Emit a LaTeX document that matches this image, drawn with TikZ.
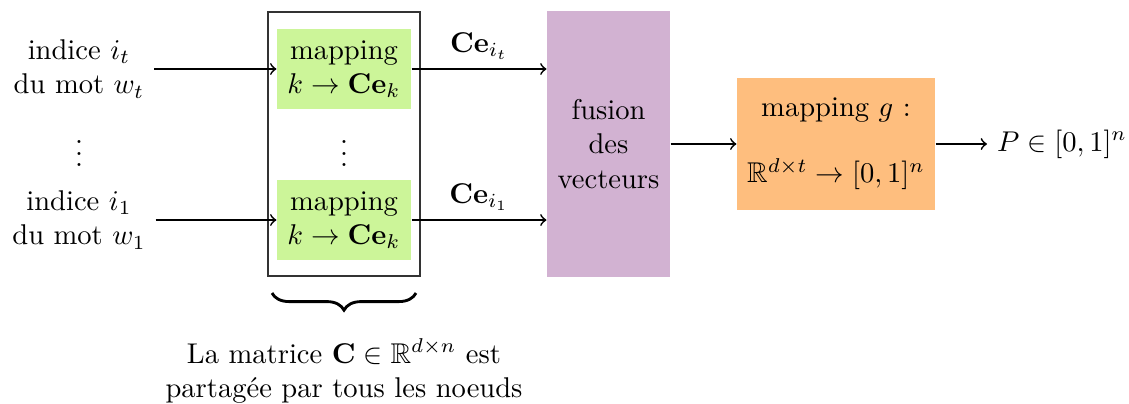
\documentclass[tikz,border=0pt]{standalone}
\usepackage{amsmath,amssymb}
\usetikzlibrary{decorations.pathreplacing}
\definecolor{mapgreen}{RGB}{204,245,153}
\definecolor{fusepurple}{RGB}{210,178,210}
\definecolor{outorange}{RGB}{254,190,126}
\tikzset{
  px/.style={x=0.35pt,y=-0.35pt},
  conn/.style={->,semithick},
  txt/.style={align=center},
  dotsnode/.style={inner sep=0pt},
  mapbox/.style={fill=mapgreen,align=center,minimum width=46.9pt,minimum height=28pt,inner sep=2pt},
  fusebox/.style={fill=fusepurple,align=center,minimum width=43pt,minimum height=93pt,inner sep=2pt},
  gbox/.style={fill=outorange,align=center,minimum width=69.3pt,minimum height=46.5pt,inner sep=2pt},
  sharedbox/.style={draw=black!80,thin,minimum width=53.2pt,minimum height=92.4pt,inner sep=0pt},
  lbl/.style={above,inner sep=3pt}
}
\begin{document}
\begin{tikzpicture}[px]
\useasboundingbox (0,0) rectangle (1129,403);
% shared container
\node[sharedbox] (shared) at (344,144) {};
% inputs
\node[txt] (in1) at (79,69) {indice $i_t$\\du mot $w_t$};
\node[dotsnode] (vdl) at (79,145) {$\vdots$};
\node[txt] (in2) at (79,220) {indice $i_1$\\du mot $w_1$};
% mapping boxes
\node[mapbox] (map1) at (344,69) {mapping\\$k\to\mathbf{Ce}_k$};
\node[dotsnode] (vdm) at (344,145) {$\vdots$};
\node[mapbox] (map2) at (344,220) {mapping\\$k\to\mathbf{Ce}_k$};
% fusion
\node[fusebox] (fuse) at (608.5,144) {fusion\\des\\vecteurs};
% g mapping
\node[gbox] (g) at (836,144) {mapping $g$ :\\[11pt]$\mathbb{R}^{d\times t}\to[0,1]^n$};
% output
\node[anchor=west] (out) at (987,144) {$P\in[0,1]^n$};
% connectors
\draw[conn] (in1.east |- map1.west) -- (map1.west);
\draw[conn] (in2.east |- map2.west) -- (map2.west);
\draw[conn] (map1.east) -- (map1.east -| fuse.west) node[midway,lbl] (l1) {$\mathbf{Ce}_{i_t}$};
\draw[conn] (map2.east) -- (map2.east -| fuse.west) node[midway,lbl] (l2) {$\mathbf{Ce}_{i_1}$};
\draw[conn] (fuse.east) -- (g.west);
\draw[conn] (g.east) -- (out.west);
% brace
\coordinate (bl) at (272,293);
\coordinate (br) at (416,293);
\draw[decorate,decoration={brace,mirror,amplitude=6pt},line width=1pt] (bl) -- (br);
\node[txt] (note) at (344,371) {La matrice $\mathbf{C}\in\mathbb{R}^{d\times n}$ est\\partagée par tous les noeuds};
\end{tikzpicture}
\end{document}
